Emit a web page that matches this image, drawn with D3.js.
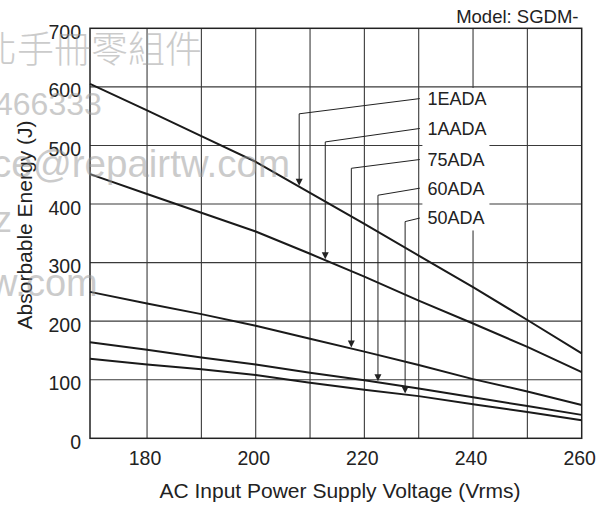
<!DOCTYPE html>
<html>
<head>
<meta charset="utf-8">
<script src="https://cdn.jsdelivr.net/npm/d3@7"></script>
<style>
body { margin: 0; background: #fff; }
text { font-family: "Liberation Sans", Arial, sans-serif; fill: #222; }
</style>
</head>
<body>
<div id="chart-area"></div>
<script>

// margins picked so the plot box sits where the scanned one does
let margin = {top: 28.3, right: 27.3, bottom: 67.7, left: 90};
let width = 609 - margin.left - margin.right;
let height = 506 - margin.top - margin.bottom;

// data (voltage in Vrms, energy in J)
let voltages = [169.5, 180, 190, 200, 210, 220, 230, 240, 250, 260];
let models = ["1EADA", "1AADA", "75ADA", "60ADA", "50ADA"];
let energy1EADA = [605, 560, 516, 472, 419, 366, 312, 258, 202, 145];
let energy1AADA = [451, 417, 385, 353, 315, 276, 235, 196, 156, 113];
let energy75ADA = [250, 230, 212, 192, 170, 148, 125, 101, 80, 57];
let energy60ADA = [164, 151, 138, 126, 112, 99, 85, 70, 55, 40];
let energy50ADA = [136, 126, 118, 108, 95, 83, 72, 58, 45, 31];

let xTicks = [180, 200, 220, 240, 260];
let xGrid = [180, 190, 200, 210, 220, 230, 240, 250];
let yTicks = [0, 100, 200, 300, 400, 500, 600, 700];

// leader lines: arrow voltage, knee energy, label energy
let arrowVolts = [208, 212.8, 217.6, 222.5, 227.5];
let kneeEnergy = [554, 506, 461, 415, 370];
let labelEnergy = [580, 529, 476, 427, 376];
let leaderVolt = 230.2;
let labelVolt = 231.6;

let series = [energy1EADA, energy1AADA, energy75ADA, energy60ADA, energy50ADA];

let svg = d3.select("#chart-area").append("svg")
	.attr("width", 609)
	.attr("height", 506);

let g = svg.append("g")
	.attr("transform", "translate(" + margin.left + "," + margin.top + ")");

// Scales
let x = d3.scaleLinear()
	.domain([169.5, 260])
	.range([0, width]);

let y = d3.scaleLinear()
	.domain([0, 700])
	.range([height, 0]);

// grid
g.selectAll(".vgrid")
	.data(xGrid)
	.enter()
	.append("line")
	.attr("class", "vgrid")
	.attr("x1", d => x(d))
	.attr("x2", d => x(d))
	.attr("y1", 0)
	.attr("y2", height)
	.attr("stroke", "#3a3a3a")
	.attr("stroke-width", 1.1);

g.selectAll(".hgrid")
	.data(yTicks.slice(1, -1))
	.enter()
	.append("line")
	.attr("class", "hgrid")
	.attr("x1", 0)
	.attr("x2", width)
	.attr("y1", d => y(d))
	.attr("y2", d => y(d))
	.attr("stroke", "#3a3a3a")
	.attr("stroke-width", 1.1);

// white box behind the labels (filled in after labels are measured)
let labelBox = g.append("rect").attr("fill", "#fff");

// frame
g.append("rect")
	.attr("width", width)
	.attr("height", height)
	.attr("fill", "none")
	.attr("stroke", "#222")
	.attr("stroke-width", 1.5);

// curves
let line = d3.line()
	.x((d, i) => x(voltages[i]))
	.y(d => y(d));

g.selectAll(".curve")
	.data(series)
	.enter()
	.append("path")
	.attr("class", "curve")
	.attr("fill", "none")
	.attr("stroke", "#1a1a1a")
	.attr("stroke-width", 2)
	.attr("d", line);

// leaders + arrowheads
models.forEach((m, i) => {
	let curveAt = d3.scaleLinear().domain(voltages).range(series[i]);
	let ax = x(arrowVolts[i]);
	let tipY = y(curveAt(arrowVolts[i])) - 1;
	g.append("path")
		.attr("fill", "none")
		.attr("stroke", "#222")
		.attr("stroke-width", 1)
		.attr("d", "M" + x(leaderVolt) + "," + y(labelEnergy[i]) +
			"L" + ax + "," + y(kneeEnergy[i]) +
			"L" + ax + "," + (tipY - 6));
	g.append("path")
		.attr("fill", "#222")
		.attr("d", "M" + (ax - 3.5) + "," + (tipY - 7) + "L" + (ax + 3.5) + "," + (tipY - 7) + "L" + ax + "," + tipY + "Z");
});

let labels = g.selectAll(".model-label")
	.data(models)
	.enter()
	.append("text")
	.attr("class", "model-label")
	.attr("x", x(labelVolt))
	.attr("y", (d, i) => y(labelEnergy[i]) + 6.4)
	.style("font-size", "18px")
	.text(d => d);

let boxes = labels.nodes().map(n => n.getBBox());
let bx0 = d3.min(boxes, b => b.x) - 5;
let bx1 = d3.max(boxes, b => b.x + b.width) + 3;
let by0 = d3.min(boxes, b => b.y) - 1;
let by1 = d3.max(boxes, b => b.y + b.height) + 2;
labelBox.attr("x", bx0).attr("y", by0).attr("width", bx1 - bx0).attr("height", by1 - by0);

// tick labels
g.selectAll(".xlab")
	.data(xTicks)
	.enter()
	.append("text")
	.attr("class", "xlab")
	.attr("x", d => x(d) - 2)
	.attr("y", height + 26.7)
	.attr("text-anchor", "middle")
	.style("font-size", "19.5px")
	.text(d => d);

g.selectAll(".ylab")
	.data(yTicks)
	.enter()
	.append("text")
	.attr("class", "ylab")
	.attr("x", -9)
	.attr("y", d => y(d) + 10.5)
	.attr("text-anchor", "end")
	.style("font-size", "19.5px")
	.text(d => d);

// titles
svg.append("text")
	.attr("x", 340)
	.attr("y", 498)
	.attr("text-anchor", "middle")
	.style("font-size", "21px")
	.text("AC Input Power Supply Voltage (Vrms)");

svg.append("text")
	.attr("transform", "translate(31.5,225) rotate(-90)")
	.attr("text-anchor", "middle")
	.style("font-size", "21px")
	.text("Absorbable Energy (J)");

svg.append("text")
	.attr("x", 578.5)
	.attr("y", 23.3)
	.attr("text-anchor", "end")
	.style("font-size", "18.5px")
	.text("Model: SGDM-");

// scanner watermark, grey and faint
let wm = svg.append("g").attr("opacity", 0.5);
wm.append("text").attr("x", -20).attr("y", 63).style("font-size", "37px").style("fill", "#999")
	.style("font-family", "'Noto Sans CJK TC', sans-serif").style("font-weight", 300).text("北手冊零組件");
wm.append("text").attr("x", -5).attr("y", 115).style("font-size", "32px").style("fill", "#999").text("466333");
wm.append("text").attr("x", -8).attr("y", 177).style("font-size", "38.5px").style("fill", "#999").text("ce@repairtw.com");
wm.append("text").attr("x", -6).attr("y", 232).style("font-size", "36px").style("fill", "#999").text("z");
wm.append("text").attr("x", -10).attr("y", 296).style("font-size", "38px").style("fill", "#999").text("w.com");

</script>
</body>
</html>
